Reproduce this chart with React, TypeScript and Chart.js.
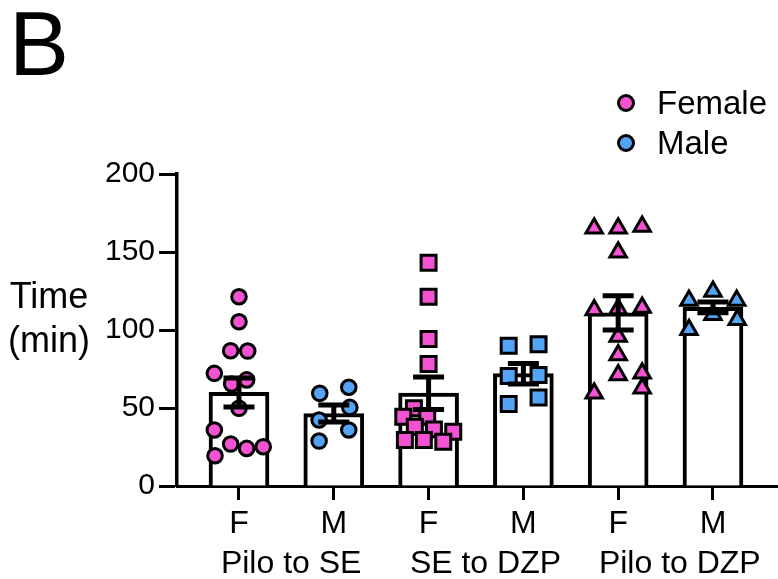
import React, { useEffect, useRef } from 'react';
import { Chart, registerables } from 'chart.js';

Chart.register(...registerables);

const FONT = '"Liberation Sans", Arial, Helvetica, sans-serif';

const groupLabels = ['Pilo to SE', 'SE to DZP', 'Pilo to DZP'];
const groupLabelPos = [0.55, 2.6, 4.65];
const sexLabels = ['F', 'M', 'F', 'M', 'F', 'M'];
const legendLabels = ['Female', 'Male'];
const yTicks = [0, 50, 100, 150, 200];

// bar heights (means) and SEM
const means = [60, 46.5, 59.5, 72, 111, 114.5];
const sems = [9.3, 5.5, 10.4, 6.6, 11, 3.5];

// individual values and their horizontal scatter (in category units)
const piloSeF = [121.3, 105.3, 86.7, 86.5, 72.2, 65.4, 68, 49.8, 35.9, 26.9, 24.1, 25.2, 19.4];
const piloSeFJitter = [0, 0, -0.088, 0.092, -0.26, -0.077, 0.081, 0, -0.26, -0.088, 0.081, 0.256, -0.253];
const piloSeM = [59.4, 63.3, 50.4, 42.3, 35.9, 28.8];
const piloSeMJitter = [-0.148, 0.158, 0.169, -0.155, 0.158, -0.155];
const seDzpF = [143.1, 121.3, 94.2, 78.2, 49.8, 44.4, 44.4, 38, 36.3, 34.8, 29.5, 29.5, 28.4];
const seDzpFJitter = [0, 0, 0, 0, -0.155, -0.267, -0.014, -0.145, 0.056, 0.26, -0.25, -0.05, 0.155];
const seDzpM = [89.9, 90.8, 70.5, 71.2, 56.8, 52.6];
const seDzpMJitter = [-0.155, 0.16, -0.155, 0.16, 0.16, -0.155];
const piloDzpF = [165.2, 165.2, 166.3, 149.8, 112.9, 113.5, 114.4, 95.8, 84, 71.2, 72.3, 62.7, 59.4];
const piloDzpFJitter = [-0.253, 0, 0.253, 0, -0.253, 0, 0.253, 0, 0, 0, 0.253, 0.253, -0.253];
const piloDzpM = [124.6, 118.9, 118.9, 109.7, 106.5, 100.1];
const piloDzpMJitter = [0, -0.253, 0.25, 0, 0.256, -0.253];

const groupValues = [piloSeF, piloSeM, seDzpF, seDzpM, piloDzpF, piloDzpM];
const groupJitters = [piloSeFJitter, piloSeMJitter, seDzpFJitter, seDzpMJitter, piloDzpFJitter, piloDzpMJitter];
const groupShapes = ['circle', 'circle', 'rect', 'rect', 'triangle', 'triangle'];
const groupRadius = [7.3, 7.3, 10.6, 10.6, 9.5, 9.5];

const PINK = '#F352D3';
const BLUE = '#55A3F5';
const sexColors = [PINK, BLUE];

const overlayPlugin = {
  id: 'overlay',
  afterDatasetsDraw(chart: any) {
    const ctx = chart.ctx;
    const xs = chart.scales.x;
    const ys = chart.scales.y;
    ctx.save();
    ctx.strokeStyle = '#000';
    ctx.lineWidth = 5;
    ctx.lineCap = 'butt';
    means.forEach((m, i) => {
      const x = xs.getPixelForValue(i);
      const yHi = ys.getPixelForValue(m + sems[i]);
      const yLo = ys.getPixelForValue(m - sems[i]);
      ctx.beginPath();
      ctx.moveTo(x, yHi);
      ctx.lineTo(x, yLo);
      ctx.moveTo(x - 15.5, yHi);
      ctx.lineTo(x + 15.5, yHi);
      ctx.moveTo(x - 15.5, yLo);
      ctx.lineTo(x + 15.5, yLo);
      ctx.stroke();
    });
    ctx.restore();
  },
  afterDraw(chart: any) {
    const ctx = chart.ctx;
    const xs = chart.scales.x;
    ctx.save();
    ctx.fillStyle = '#000';
    ctx.font = `32px ${FONT}`;
    ctx.textAlign = 'center';
    ctx.textBaseline = 'alphabetic';
    groupLabels.forEach((g, i) => {
      ctx.fillText(g, xs.getPixelForValue(groupLabelPos[i]), 573);
    });
    ctx.textAlign = 'left';
    ctx.font = `90px ${FONT}`;
    ctx.fillText('B', 9, 75);
    ctx.textAlign = 'center';
    ctx.font = `36px ${FONT}`;
    ctx.fillText('Time', 49, 308);
    ctx.fillText('(min)', 49, 352);
    legendLabels.forEach((l, i) => {
      const cy = 103 + i * 40;
      ctx.beginPath();
      ctx.arc(626, cy, 7.5, 0, Math.PI * 2);
      ctx.fillStyle = sexColors[i];
      ctx.fill();
      ctx.lineWidth = 3;
      ctx.strokeStyle = '#000';
      ctx.stroke();
      ctx.fillStyle = '#000';
      ctx.textAlign = 'left';
      ctx.font = `33px ${FONT}`;
      ctx.fillText(l, 657, cy + 11);
    });
    ctx.restore();
  },
};

export default function App() {
  const ref = useRef<HTMLCanvasElement | null>(null);
  useEffect(() => {
    if (!ref.current) return;
    const datasets: any[] = [
      {
        type: 'bar',
        data: means.map((m, i) => ({ x: i, y: m })),
        backgroundColor: '#ffffff',
        borderColor: '#000000',
        borderWidth: 4,
        barThickness: 60,
        order: 3,
      },
    ];
    groupValues.forEach((vals, g) => {
      datasets.push({
        type: 'scatter',
        data: vals.map((v, k) => ({ x: g + groupJitters[g][k], y: v })),
        pointStyle: groupShapes[g],
        pointRadius: groupRadius[g],
        pointBackgroundColor: sexColors[g % 2],
        pointBorderColor: '#000',
        pointBorderWidth: 3,
        order: 1,
      });
    });
    const chart = new Chart(ref.current, {
      type: 'scatter',
      data: { datasets },
      options: {
        animation: false,
        responsive: false,
        maintainAspectRatio: false,
        events: [],
        layout: { autoPadding: false, padding: { top: 174, right: 0, bottom: 0, left: 0 } },
        plugins: { legend: { display: false }, tooltip: { enabled: false } },
        scales: {
          x: {
            type: 'linear',
            min: -0.654,
            max: 5.686,
            offset: false,
            afterBuildTicks: (scale: any) => {
              scale.ticks = sexLabels.map((_, i) => ({ value: i }));
            },
            afterFit: (scale: any) => {
              scale.height = 93;
              scale.paddingLeft = 0;
              scale.paddingRight = 0;
            },
            ticks: {
              autoSkip: false,
              maxRotation: 0,
              minRotation: 0,
              padding: 5,
              color: '#000',
              font: { family: FONT, size: 32 },
              callback: (v: any) => sexLabels[v] ?? '',
            },
            grid: {
              offset: false,
              display: true,
              drawOnChartArea: false,
              drawTicks: true,
              tickLength: 14,
              tickWidth: 3,
              tickColor: '#000',
            },
            border: { display: true, color: '#000', width: 3 },
          },
          y: {
            type: 'linear',
            min: 0,
            max: 200,
            afterBuildTicks: (scale: any) => {
              scale.ticks = yTicks.map((v) => ({ value: v }));
            },
            afterFit: (scale: any) => {
              scale.width = 177;
            },
            ticks: {
              padding: 4,
              color: '#000',
              font: { family: FONT, size: 30 },
            },
            grid: {
              display: true,
              drawOnChartArea: false,
              drawTicks: true,
              tickLength: 18,
              tickWidth: 3,
              tickColor: '#000',
            },
            border: { display: true, color: '#000', width: 3.5 },
          },
        },
      } as any,
      plugins: [overlayPlugin],
    } as any);
    return () => chart.destroy();
  }, []);
  return (
    <div style={{ position: 'fixed', left: 0, top: 0, width: 778, height: 579, background: '#fff' }}>
      <canvas ref={ref} width={778} height={579} />
    </div>
  );
}
